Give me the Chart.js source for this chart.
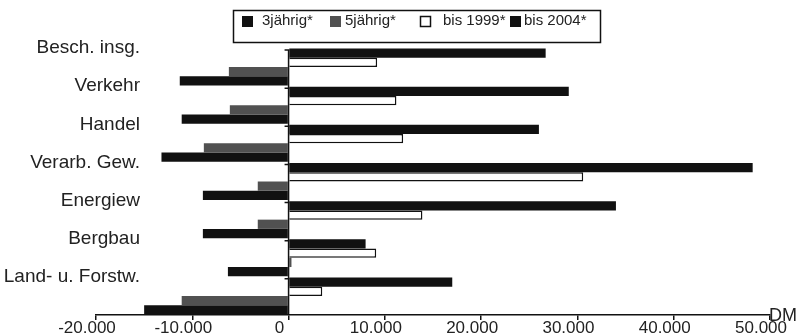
<!DOCTYPE html>
<html>
<head>
<meta charset="utf-8">
<script src="https://cdn.jsdelivr.net/npm/chart.js@4"></script>
<style>
    html, body { margin: 0; padding: 0; background: #fff; }
    #wrap { width: 796px; height: 336px; position: relative; }
</style>
</head>
<body>
<div id="wrap"><canvas id="chart1"></canvas></div>
<script>
// Daten (von oben nach unten)
const branchen = ["Besch. insg.", "Verkehr", "Handel", "Verarb. Gew.", "Energiew", "Bergbau", "Land- u. Forstw."];
const dreijaehrig = [-11300, -11100, -13200, -8900, -8900, -6300, -15000];
const fuenfjaehrig = [-6200, -6100, -8800, -3200, -3200, 300, -11100];
const bis1999 = [9200, 11200, 11900, 30600, 13900, 9100, 3500];
const bis2004 = [26700, 29100, 26000, 48200, 34000, 8000, 17000];
const xTicks = [-20000, -10000, 0, 10000, 20000, 30000, 40000, 50000];

const FONT = "'Liberation Sans', Arial, sans-serif";

function fmt(v) {
    const s = String(Math.abs(v)).replace(/\B(?=(\d{3})+(?!\d))/g, ".");
    return (v < 0 ? "-" : "") + s;
}

// Nulllinie + kleine Striche an den Gruppengrenzen
const nullLinie = {
    id: "nullLinie",
    afterDatasetsDraw(chart) {
        const { ctx, chartArea, scales } = chart;
        const x0 = scales.x.getPixelForValue(0);
        ctx.save();
        ctx.strokeStyle = "#111";
        ctx.lineWidth = 1.5;
        ctx.beginPath();
        ctx.moveTo(x0, chartArea.top + 2);
        ctx.lineTo(x0, chartArea.bottom);
        const step = (chartArea.bottom - chartArea.top) / branchen.length;
        for (let i = 0; i < branchen.length; i++) {
            const y = chartArea.top + 2 + i * step;
            ctx.moveTo(x0 - 4, y);
            ctx.lineTo(x0 + 1, y);
        }
        ctx.stroke();
        ctx.restore();
    },
};

// Kategorienamen: an der oberen Gruppengrenze, ragen in den Plotbereich
const yLabels = {
    id: "yLabels",
    afterDraw(chart) {
        const { ctx, scales } = chart;
        const y = scales.y;
        const step = (y.bottom - y.top) / branchen.length;
        ctx.save();
        ctx.font = "19px " + FONT;
        ctx.fillStyle = "#222";
        ctx.textAlign = "right";
        ctx.textBaseline = "middle";
        branchen.forEach((b, i) => {
            ctx.fillText(b, y.right + 44, y.getPixelForTick(i) - step / 2);
        });
        ctx.restore();
    },
};

// Legende im Kasten und "DM" am Achsenende
const legendeBox = {
    id: "legendeBox",
    afterDraw(chart) {
        const { ctx, scales } = chart;
        ctx.save();
        ctx.strokeStyle = "#111";
        ctx.lineWidth = 1.5;
        ctx.strokeRect(233.5, 10.5, 367, 32);

        const pos = [242, 330, 420, 510];
        const gap = [20, 15, 23, 14];
        const sets = chart.data.datasets.slice().reverse();
        ctx.font = "15px " + FONT;
        ctx.textBaseline = "middle";
        sets.forEach((ds, i) => {
            const x = pos[i];
            ctx.fillStyle = ds.backgroundColor;
            ctx.fillRect(x, 16, 11, 11);
            if (ds.borderWidth) {
                ctx.strokeStyle = "#111";
                ctx.lineWidth = 1.5;
                ctx.strokeRect(x + 0.5, 16.5, 10, 10);
            }
            ctx.fillStyle = "#222";
            ctx.fillText(ds.label, x + gap[i], 21);
        });

        ctx.font = "18px " + FONT;
        ctx.textBaseline = "alphabetic";
        ctx.fillStyle = "#222";
        ctx.fillText("DM", scales.x.right - 1, 321);
        ctx.restore();
    },
};

const ctx1 = document.getElementById("chart1").getContext("2d");
const chart1 = new Chart(ctx1, {
    type: "bar",
    data: {
        labels: branchen,
        datasets: [
            { label: "bis 2004*", data: bis2004, backgroundColor: "#111", borderWidth: 0 },
            { label: "bis 1999*", data: bis1999, backgroundColor: "#fff", borderColor: "#111", borderWidth: 1.5 },
            { label: "5jährig*", data: fuenfjaehrig, backgroundColor: "#515151", borderWidth: 0 },
            { label: "3jährig*", data: dreijaehrig, backgroundColor: "#111", borderWidth: 0 },
        ],
    },
    options: {
        indexAxis: "y",
        responsive: true,
        maintainAspectRatio: false,
        animation: false,
        categoryPercentage: 0.97,
        barPercentage: 1,
        layout: { padding: { top: 48, right: 26, left: 0, bottom: 0 } },
        plugins: {
            legend: { display: false },
            tooltip: { enabled: false },
        },
        scales: {
            x: {
                min: -20000,
                max: 50000,
                afterBuildTicks: (scale) => {
                    scale.ticks = xTicks.map((v) => ({ value: v }));
                },
                afterFit: (scale) => {
                    scale.height = 21;
                },
                grid: {
                    display: true,
                    drawOnChartArea: false,
                    drawTicks: true,
                    tickLength: 5,
                    color: "#111",
                    lineWidth: 1.5,
                },
                border: { display: true, color: "#111", width: 1.5 },
                ticks: {
                    autoSkip: false,
                    maxRotation: 0,
                    padding: -2,
                    labelOffset: -9,
                    color: "#222",
                    font: { family: FONT, size: 17 },
                    callback: (v) => fmt(v),
                },
            },
            y: {
                afterFit: (scale) => {
                    scale.width = 96;
                },
                grid: { display: false },
                border: { display: false },
                ticks: { display: false },
            },
        },
    },
    plugins: [nullLinie, yLabels, legendeBox],
});
</script>
</body>
</html>
